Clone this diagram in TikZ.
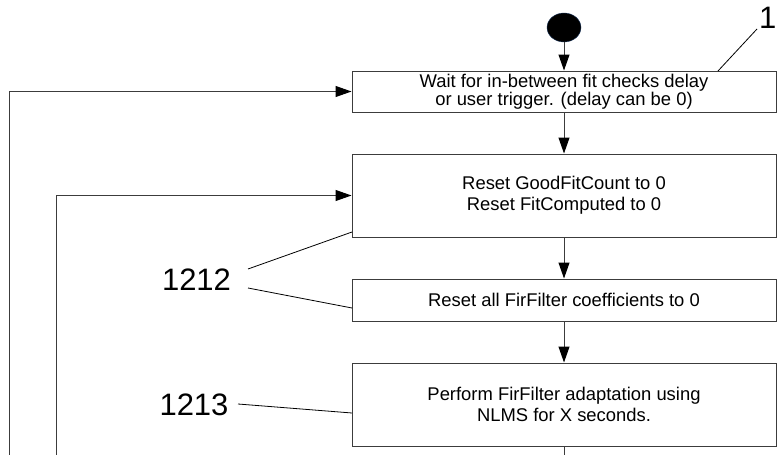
\documentclass[tikz,border=0pt]{standalone}
\usepackage{fontspec}
\setmainfont{Liberation Sans}
\usetikzlibrary{arrows.meta, shapes.geometric, positioning}
\definecolor{flowgray}{HTML}{3C3C3C}
\definecolor{startrim}{HTML}{1F3A60}

\tikzset{
  stepbox/.style={draw=flowgray, line width=1pt, minimum width=424pt, inner sep=0pt, align=center, font=\fontsize{18.4}{21}\selectfont},
  flow/.style={draw=flowgray, line width=1pt, -{Triangle[length=16pt, width=11pt, color=black]}},
  leader/.style={draw=black, line width=0.8pt},
  refnum/.style={inner sep=0pt, font=\fontsize{31}{31}\selectfont}
}

\begin{document}
\begin{tikzpicture}[x=1pt, y=-1pt]
  \useasboundingbox (0,0) rectangle (777,455);

  % start point
  \node[ellipse, fill=black, draw=startrim, minimum width=34pt, minimum height=29pt, inner sep=0pt] (start) at (564,27.5) {};

  % steps of the fit loop
  \node[stepbox, minimum height=41pt, font=\fontsize{18.4}{17.5}\selectfont] (wait) at (564,91.5) {Wait for in-between fit checks delay\\or user trigger. (delay can be 0)};
  \node[stepbox, minimum height=83pt] (resetcount) at (564,195.5) {Reset GoodFitCount to 0\\Reset FitComputed to 0};
  \node[stepbox, minimum height=42pt] (resetcoef) at (564,300) {Reset all FirFilter coefficients to 0};
  \node[stepbox, minimum height=83pt] (adapt) at (564,404.5) {Perform FirFilter adaptation using\\NLMS for X seconds.};

  \draw[flow] (start) -- (wait);
  \draw[flow] (wait) -- (resetcount);
  \draw[flow] (resetcount) -- (resetcoef);
  \draw[flow] (resetcoef) -- (adapt);
  \coordinate (adaptout) at (564,455);
  \draw[draw=flowgray, line width=1pt] (adapt) -- (adaptout);

  % loops coming back from below
  \coordinate (outerfoot) at (9,455);
  \coordinate (innerfoot) at (56,455);
  \draw[flow] (outerfoot) |- (wait.west);
  \draw[flow] (innerfoot) |- (resetcount.west);

  % reference numerals
  \node[refnum, anchor=base east] (num1) at (776.5,28) {1};
  \node[refnum] (num1212) at (196.5,280) {1212};
  \node[refnum] (num1213) at (194,405) {1213};

  \coordinate (lead1a) at (757,29);
  \coordinate (lead1b) at (718,71);
  \draw[leader] (lead1a) -- (lead1b);
  \coordinate (lead2a) at (248,269);
  \coordinate (lead2b) at (352,232);
  \draw[leader] (lead2a) -- (lead2b);
  \coordinate (lead3a) at (248,288);
  \coordinate (lead3b) at (352,308);
  \draw[leader] (lead3a) -- (lead3b);
  \coordinate (lead4a) at (238,404);
  \coordinate (lead4b) at (352,413);
  \draw[leader] (lead4a) -- (lead4b);
\end{tikzpicture}
\end{document}
